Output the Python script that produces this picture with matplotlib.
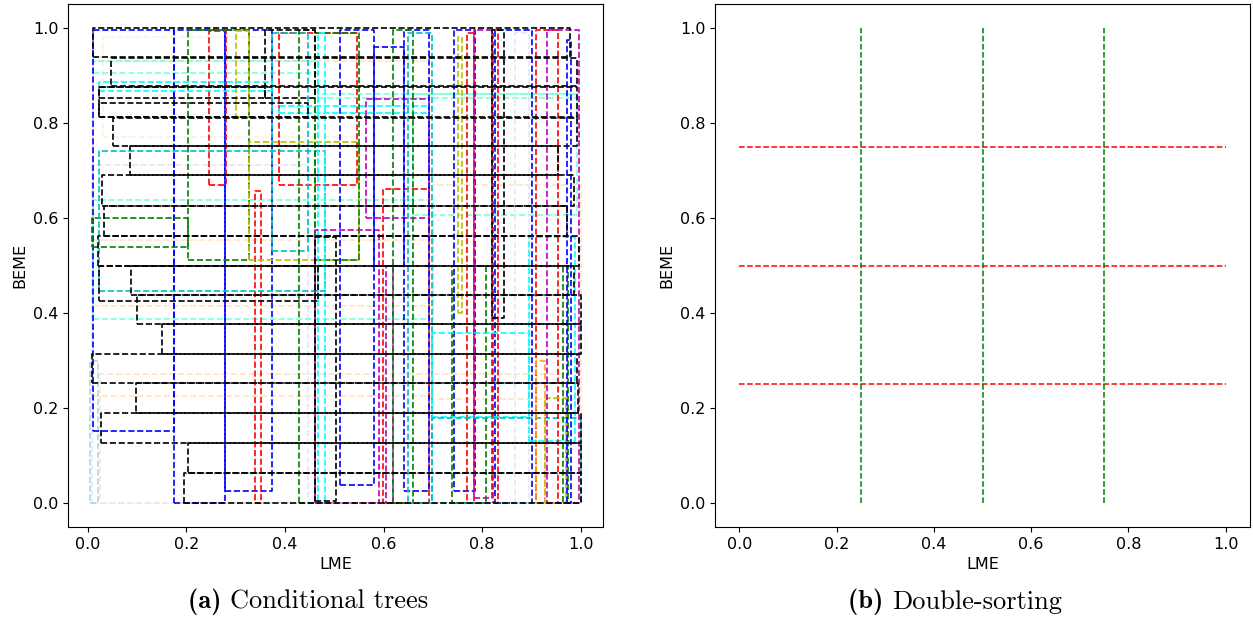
import numpy as np
from matplotlib import pyplot as plt

plt.rcParams['font.size'] = 11.5

# Conditional-tree partitions: (LME lo, LME hi, BEME lo, BEME hi)
black_boxes = [
    (0.011, 0.978, 0.939, 1.000),
    (0.047, 0.993, 0.877, 0.937),
    (0.022, 0.359, 0.853, 0.876),
    (0.022, 0.446, 0.812, 0.842),
    (0.022, 0.993, 0.812, 0.876),
    (0.051, 0.993, 0.751, 0.811),
    (0.086, 0.953, 0.690, 0.751),
    (0.029, 0.986, 0.625, 0.690),
    (0.033, 0.973, 0.561, 0.625),
    (0.020, 0.996, 0.498, 0.561),
    (0.088, 0.986, 0.439, 0.498),
    (0.022, 0.467, 0.426, 0.498),
    (0.100, 1.000, 0.377, 0.438),
    (0.151, 1.000, 0.314, 0.377),
    (0.009, 0.993, 0.252, 0.314),
    (0.098, 0.995, 0.189, 0.252),
    (0.027, 1.000, 0.126, 0.189),
    (0.203, 1.000, 0.063, 0.126),
    (0.196, 1.000, 0.000, 0.063),
    (0.460, 0.504, 0.005, 0.560),
    (0.820, 0.844, 0.390, 0.995),
    (0.359, 0.460, 0.853, 0.996),
]

color_boxes = [
    (0.011, 0.692, 0.415, 0.930, 'bisque'),
    (0.025, 1.000, 0.000, 0.272, 'bisque'),
    (0.692, 1.000, 0.219, 0.670, 'bisque'),
    (0.010, 0.700, 0.226, 0.553, 'bisque'),
    (0.030, 0.550, 0.770, 0.980, 'beige'),
    (0.009, 0.446, 0.000, 0.712, 'lavender'),
    (0.004, 0.020, 0.000, 0.300, 'lightblue'),
    (0.011, 0.700, 0.387, 0.638, 'aquamarine'),
    (0.659, 0.993, 0.607, 0.860, 'aquamarine'),
    (0.011, 0.467, 0.905, 0.930, 'aquamarine'),
    (0.467, 0.993, 0.852, 0.860, 'aquamarine'),
    (0.011, 0.174, 0.152, 0.996, 'b'),
    (0.174, 0.279, 0.000, 0.996, 'b'),
    (0.279, 0.373, 0.025, 0.996, 'b'),
    (0.246, 0.280, 0.670, 0.993, 'r'),
    (0.339, 0.351, 0.000, 0.656, 'r'),
    (0.388, 0.547, 0.670, 0.990, 'r'),
    (0.203, 0.328, 0.512, 0.996, 'g'),
    (0.009, 0.203, 0.538, 0.600, 'g'),
    (0.300, 0.328, 0.812, 0.993, 'y'),
    (0.328, 0.550, 0.512, 0.760, 'y'),
    (0.373, 0.446, 0.530, 0.990, 'c'),
    (0.022, 0.373, 0.867, 0.885, 'cyan'),
    (0.388, 0.692, 0.820, 0.835, 'cyan'),
    (0.022, 0.482, 0.446, 0.740, 'c'),
    (0.428, 0.460, 0.000, 0.995, 'g'),
    (0.460, 0.550, 0.512, 0.990, 'g'),
    (0.467, 0.482, 0.000, 0.990, 'cyan'),
    (0.511, 0.580, 0.039, 0.996, 'b'),
    (0.565, 0.692, 0.600, 0.850, 'm'),
    (0.460, 0.591, 0.000, 0.574, 'm'),
    (0.598, 0.692, 0.000, 0.660, 'r'),
    (0.605, 0.620, 0.000, 0.500, 'm'),
    (0.580, 0.641, 0.500, 0.960, 'b'),
    (0.641, 0.692, 0.026, 0.996, 'b'),
    (0.620, 0.659, 0.000, 0.996, 'g'),
    (0.649, 0.699, 0.000, 0.990, 'c'),
    (0.739, 0.808, 0.000, 0.500, 'g'),
    (0.743, 0.786, 0.025, 0.995, 'b'),
    (0.750, 0.760, 0.400, 0.980, 'y'),
    (0.770, 0.783, 0.000, 0.990, 'r'),
    (0.783, 0.820, 0.010, 0.995, 'm'),
    (0.822, 0.833, 0.000, 0.995, 'r'),
    (0.826, 0.902, 0.000, 0.995, 'b'),
    (0.866, 0.895, 0.000, 0.990, 'lavender'),
    (0.895, 0.989, 0.131, 0.560, 'cyan'),
    (0.699, 0.895, 0.181, 0.359, 'cyan'),
    (0.699, 1.000, 0.000, 0.180, 'c'),
    (0.909, 0.953, 0.000, 0.995, 'r'),
    (0.909, 0.928, 0.000, 0.300, 'orange'),
    (0.928, 0.970, 0.000, 0.222, 'y'),
    (0.931, 0.996, 0.000, 0.995, 'm'),
    (0.964, 0.975, 0.000, 0.500, 'g'),
    (0.971, 0.980, 0.000, 0.975, 'b'),
]

# Double-sorting breakpoints for panel (b)
beme_cuts = [0.25, 0.5, 0.75]
lme_cuts = [0.25, 0.5, 0.75]

captions = [('(a)', 'Conditional trees', 308), ('(b)', 'Double-sorting', 955)]


def draw_box(ax, x0, x1, y0, y1, color, lw=1.2):
    ax.plot([x0, x1, x1, x0, x0], [y0, y0, y1, y1, y0], '--', color=color, lw=lw)


fig = plt.figure(figsize=(12.53, 6.18), dpi=100)
ax1 = fig.add_axes([68 / 1253, 1 - 527 / 618, 535 / 1253, 523 / 618])
ax2 = fig.add_axes([715 / 1253, 1 - 527 / 618, 535 / 1253, 523 / 618])

for x0, x1, y0, y1, c in color_boxes:
    draw_box(ax1, x0, x1, y0, y1, c)
for x0, x1, y0, y1 in black_boxes:
    draw_box(ax1, x0, x1, y0, y1, 'k')
ax1.set_xlim(-0.04, 1.045)
ax1.set_ylim(-0.05, 1.05)
ax1.set_xlabel('LME')
ax1.set_ylabel('BEME')

for b in beme_cuts:
    ax2.plot([0, 1], [b, b], '--', color='r', lw=1.1)
for l in lme_cuts:
    ax2.plot([l, l], [0, 1], '--', color='g', lw=1.1)
ax2.set_xlim(-0.05, 1.05)
ax2.set_ylim(-0.05, 1.05)
ax2.set_xlabel('LME')
ax2.set_ylabel('BEME')

# subcaptions: bold label + roman text, centred as a pair
renderer = fig.canvas.get_renderer()
ycap = 1 - 602 / 618
for lab, txt, xc in captions:
    t1 = fig.text(0, ycap, lab + ' ', ha='left', va='center', fontsize=19, family='cmb10')
    t2 = fig.text(0, ycap, txt, ha='left', va='center', fontsize=19, family='cmr10')
    w1 = t1.get_window_extent(renderer).width
    w2 = t2.get_window_extent(renderer).width
    x0 = xc - (w1 + w2) / 2
    t1.set_x(x0 / 1253)
    t2.set_x((x0 + w1) / 1253)

plt.savefig('out.png', dpi=100)
